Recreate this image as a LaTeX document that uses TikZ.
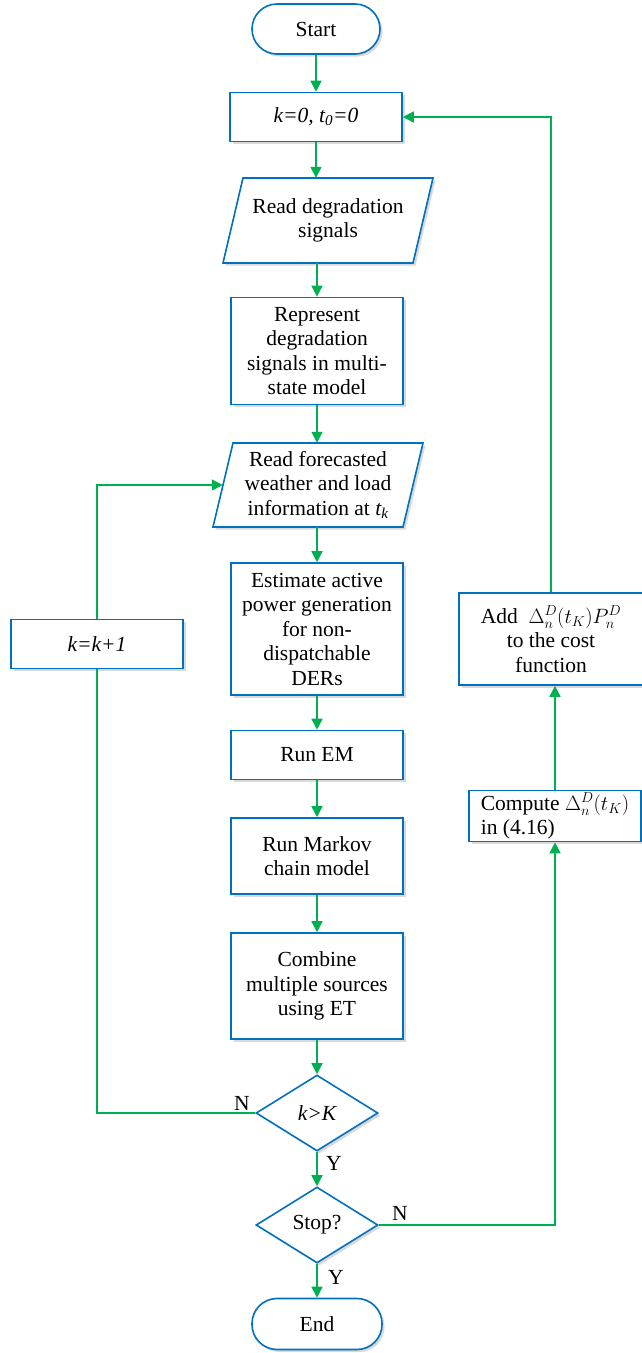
\documentclass[tikz,border=0pt]{standalone}
\usepackage{fontspec}
\setmainfont{Liberation Serif}
\usetikzlibrary{shapes.geometric,shadows,arrows.meta}
\definecolor{boxblue}{RGB}{0,112,192}
\definecolor{flowgreen}{RGB}{0,176,80}

\begin{document}
\begin{tikzpicture}[x=1pt,y=-1pt,
  outline/.style={draw=boxblue, line width=1.6pt, fill=white,
    drop shadow={shadow xshift=2.5pt, shadow yshift=-2.5pt, opacity=0.3}},
  txt/.style={align=center, inner sep=0pt, font=\fontsize{21.5}{24.5}\selectfont},
  base/.style={outline, txt},
  proc/.style={base, rectangle},
  term/.style={base, rectangle, rounded corners=25pt},
  iotext/.style={txt, rectangle, minimum width=190pt, minimum height=85pt},
  decision/.style={base, diamond, minimum width=122pt, minimum height=76pt},
  flow/.style={draw=flowgreen, line width=1.6pt, -{Triangle[length=11pt,width=11pt]}},
  link/.style={draw=flowgreen, line width=1.6pt},
  lbl/.style={font=\fontsize{21.5}{24.5}\selectfont, inner sep=0pt}]
\useasboundingbox (0,0) rectangle (642,1353);

% parallelogram outlines of the two input steps (slant 20pt)
\path[outline] (243,178) -- (433,178) -- (413,263) -- (223,263) -- cycle;
\path[outline] (233,443) -- (423,443) -- (403,527) -- (213,527) -- cycle;

% main column
\node[term, minimum width=128pt, minimum height=50pt] (start) at (316,29) {Start};
\node[proc, minimum width=172pt, minimum height=49pt] (init) at (316,117) {\itshape k=0, t\textsubscript{0}=0};
\node[iotext] (readdeg) at (328,220.5) {Read degradation\\signals};
\node[proc, minimum width=172pt, minimum height=107pt] (repr) at (317,351) {Represent\\degradation\\signals in multi-\\state model};
\node[iotext, minimum height=84pt] (readfc) at (318,485) {Read forecasted\\weather and load\\information at \textit{t\textsubscript{k}}};
\node[proc, minimum width=172pt, minimum height=132pt] (est) at (317,629) {Estimate active\\power generation\\for non-\\dispatchable\\DERs};
\node[proc, minimum width=172pt, minimum height=49pt] (em) at (317,755) {Run EM};
\node[proc, minimum width=172pt, minimum height=76pt] (markov) at (317,856) {Run Markov\\chain model};
\node[proc, minimum width=172pt, minimum height=106pt] (comb) at (317,986) {Combine\\multiple sources\\using ET};
\node[decision] (dec1) at (317,1113) {\itshape k>K};
\node[decision] (dec2) at (317,1225) {Stop?};
\node[term, minimum width=130pt, minimum height=51pt] (finish) at (317,1324) {End};

% side boxes
\node[proc, minimum width=172pt, minimum height=49pt] (inc) at (97,644) {\itshape k=k+1};
\node[proc, minimum width=172pt, minimum height=51pt, align=left] (comp) at (555,816) {Compute $\Delta_n^D(t_K)$\\in (4.16)};
\node[proc, minimum width=184pt, minimum height=92pt] (add) at (551,639) {Add\ \ $\Delta_n^D(t_K)P_n^D$\\to the cost\\function};

% main flow
\draw[flow] (start.south -| init.north) -- (init.north);
\draw[flow] (init.south) -- (init.south |- readdeg.north);
\draw[flow] (repr.north |- readdeg.south) -- (repr.north);
\draw[flow] (repr.south) -- (repr.south |- readfc.north);
\draw[flow] (est.north |- readfc.south) -- (est.north);
\draw[flow] (est.south) -- (em.north);
\draw[flow] (em.south) -- (markov.north);
\draw[flow] (markov.south) -- (comb.north);
\draw[flow] (comb.south) -- (dec1.north);
\draw[flow] (dec1.south) -- (dec2.north);
\draw[flow] (dec2.south) -- (finish.north);

% loop over k
\draw[link] (dec1.west) -| (inc.south);
\draw[flow] (inc.north) |- (readfc.west);

% degradation cost branch
\draw[flow] (dec2.east) -| (comp.south);
\draw[flow] (comp.north) -- (comp.north |- add.south);
\draw[flow] (add.north) |- (init.east);

% branch labels
\node[lbl] (n1) at (242,1103) {N};
\node[lbl] (y1) at (334,1163) {Y};
\node[lbl] (n2) at (400,1213) {N};
\node[lbl] (y2) at (336,1277) {Y};
\end{tikzpicture}
\end{document}
